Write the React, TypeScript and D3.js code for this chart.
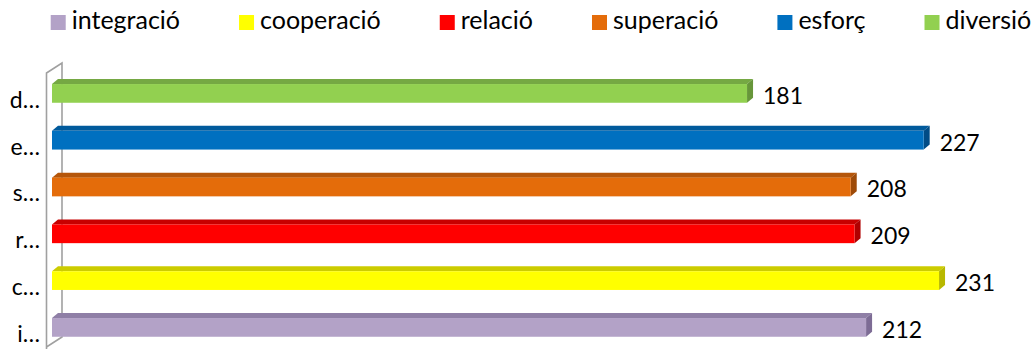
import React, { useEffect, useRef } from "react";
import * as d3 from "d3";

const categories = ["integració", "cooperació", "relació", "superació", "esforç", "diversió"];
const values = [212, 231, 209, 208, 227, 181];
const frontColors = ["#B3A2C7", "#FFFF00", "#FF0000", "#E46C0A", "#0070C0", "#92D050"];
const topColors = ["#8F7FA6", "#CCCC00", "#C80000", "#B5560A", "#005A9C", "#75A843"];
const sideColors = ["#7D6C95", "#B8B800", "#B00000", "#9E4B08", "#004C86", "#67963A"];

const W = 1036;
const H = 349;
const FONT = "Lato, 'Open Sans', sans-serif";

export default function App() {
  const ref = useRef<SVGSVGElement | null>(null);

  useEffect(() => {
    const svg = d3.select(ref.current);
    svg.selectAll("*").remove();

    const x = d3.scaleLinear().domain([0, 250]).range([52, 1012]);
    const y = d3
      .scaleBand<string>()
      .domain([...categories].reverse())
      .range([70, 350.8])
      .paddingInner(0.6)
      .paddingOuter(0.3);
    const bw = y.bandwidth();
    const dx = 6;
    const dy = 5;

    // axis wall
    svg
      .append("path")
      .attr("d", "M62,63 L62,337 L46.5,347 L46.5,73 Z M46.5,347 L46.5,352")
      .attr("fill", "none")
      .attr("stroke", "#A0A0A0")
      .attr("stroke-width", 1.6);

    const g = svg.append("g");
    categories.forEach((c, i) => {
      const y0 = y(c)!;
      const x0 = x(0);
      const x1 = x(values[i]);
      // top face
      g.append("polygon")
        .attr("points", [[x0, y0], [x0 + dx, y0 - dy], [x1 + dx, y0 - dy], [x1, y0]].map((p) => p.join(",")).join(" "))
        .attr("fill", topColors[i]);
      // right face
      g.append("polygon")
        .attr("points", [[x1, y0], [x1 + dx, y0 - dy], [x1 + dx, y0 + bw - dy], [x1, y0 + bw]].map((p) => p.join(",")).join(" "))
        .attr("fill", sideColors[i]);
      // front
      g.append("rect")
        .attr("x", x0)
        .attr("y", y0)
        .attr("width", x1 - x0)
        .attr("height", bw)
        .attr("fill", frontColors[i]);
      // value label
      g.append("text")
        .attr("x", x1 + 16)
        .attr("y", y0 + bw + 1)
        .attr("font-family", FONT)
        .attr("font-size", 23)
        .attr("fill", "#000")
        .text(String(values[i]));
      // category label (truncated)
      g.append("text")
        .attr("x", 40)
        .attr("y", y0 + bw + 5)
        .attr("text-anchor", "end")
        .attr("font-family", FONT)
        .attr("font-size", 23)
        .attr("fill", "#000")
        .text(c.charAt(0) + "…");
    });

    // legend: flow layout, centered
    const lg = svg.append("g");
    const items = categories.map((c, i) => {
      const it = lg.append("g");
      it.append("rect").attr("x", 0).attr("y", 15).attr("width", 15).attr("height", 15).attr("fill", frontColors[i]);
      const t = it
        .append("text")
        .attr("x", 21)
        .attr("y", 29)
        .attr("font-family", FONT)
        .attr("font-size", 25)
        .attr("fill", "#000")
        .text(c);
      const w = (t.node() as SVGTextElement).getComputedTextLength();
      return { it, w: 21 + w };
    });
    const gap = 59;
    const total = d3.sum(items, (d) => d.w) + gap * (items.length - 1);
    let cx = (52 + 1030) / 2 - total / 2;
    items.forEach((d) => {
      d.it.attr("transform", `translate(${cx},0)`);
      cx += d.w + gap;
    });
  }, []);

  return (
    <div style={{ position: "absolute", left: 0, top: 0 }}>
      <svg ref={ref} width={W} height={H} style={{ display: "block", background: "#fff" }} />
    </div>
  );
}
